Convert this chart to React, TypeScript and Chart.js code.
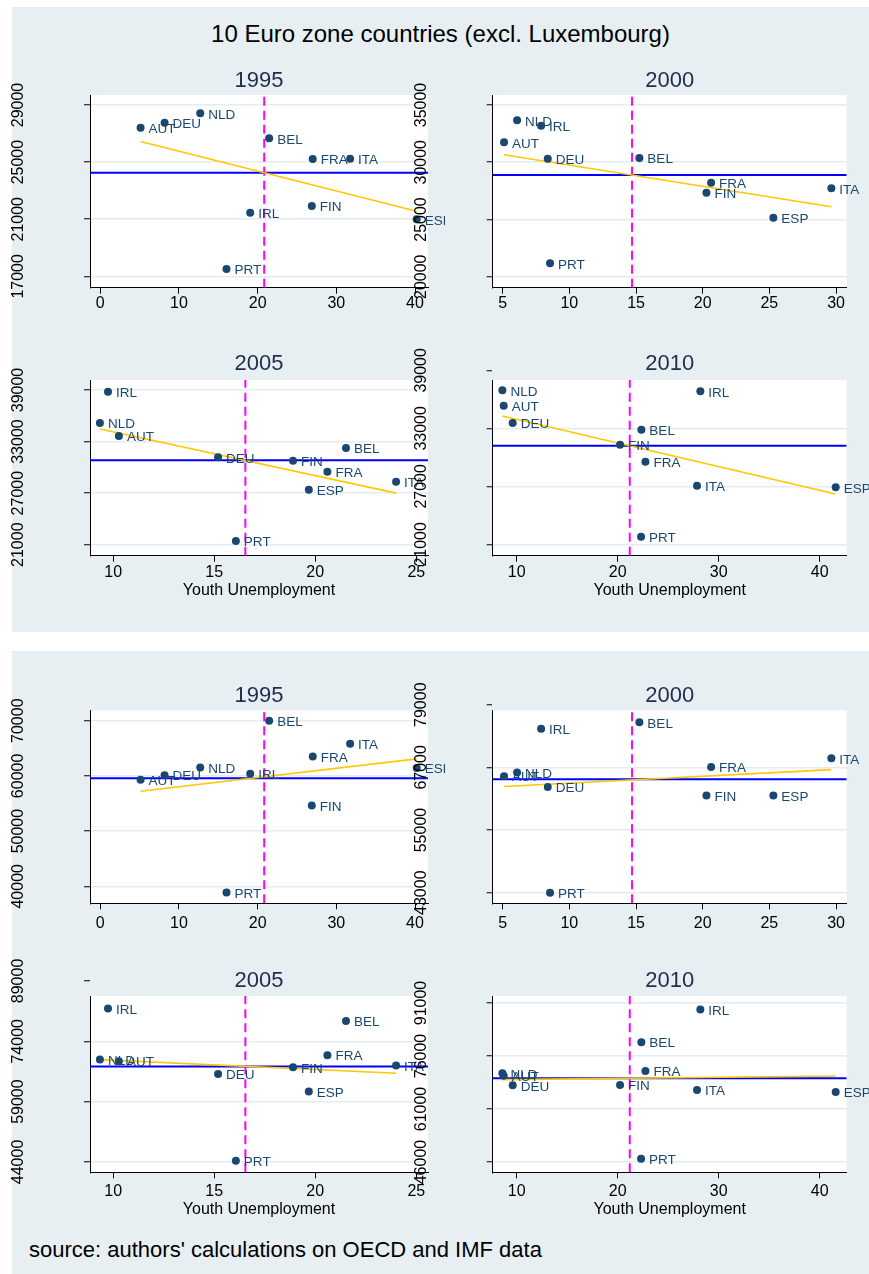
import React, { useEffect, useRef } from 'react';
import { Chart, registerables } from 'chart.js';

Chart.register(...registerables);

const FONT = '"Liberation Sans", Arial, Helvetica, sans-serif';
const NAVY = '#1a476f';
const TITLE_COLOR = '#1f2d4e';
const GRID = '#e4ecef';
const BG = '#e8eff2';

// ---------- data ----------
const countries = ['AUT', 'BEL', 'DEU', 'ESP', 'FIN', 'FRA', 'IRL', 'ITA', 'NLD', 'PRT'];
const years = ['1995', '2000', '2005', '2010'];

const youth1995 = [5.12, 21.46, 8.17, 40.21, 26.88, 27.0, 19.05, 31.75, 12.7, 16.04];
const youth2000 = [5.1, 15.25, 8.38, 25.3, 20.28, 20.63, 7.88, 29.65, 6.08, 8.55];
const youth2005 = [10.28, 21.52, 15.19, 19.68, 18.9, 20.6, 9.74, 24.0, 9.34, 16.07];
const youth2010 = [8.71, 22.34, 9.6, 41.58, 20.23, 22.74, 28.18, 27.85, 8.58, 22.31];

const gdp1995 = [27412, 26665, 27762, 20991, 21925, 25217, 21458, 25240, 28416, 17514];
const gdp2000 = [31740, 30370, 30310, 25160, 27340, 28215, 33195, 27720, 33660, 21170];
const gdp2005 = [33647, 32250, 31164, 27402, 30776, 29496, 38806, 28333, 35160, 21427];
const gdp2010 = [35345, 32862, 33552, 26897, 31311, 29553, 36828, 27070, 36931, 21795];

const prod1995 = [59295, 70000, 60140, 61412, 54638, 63529, 60380, 65827, 61533, 38853];
const prod2000 = [65300, 75623, 63261, 61604, 61604, 67084, 74412, 68741, 66001, 43000];
const prod2005 = [69032, 79016, 65870, 61544, 67534, 70530, 82178, 67950, 69448, 44322];
const prod2010 = [70429, 79916, 67705, 65827, 67799, 71744, 89121, 66390, 71087, 46947];

const meanYouth = [20.83, 14.7, 16.54, 21.19];
const meanGdp = [24260, 28885, 30815, 31208];
const meanProd = [59597, 64727, 67700, 69678];

const fitX = [[5.12, 40.21], [5.1, 29.65], [9.34, 24.0], [8.58, 41.58]];
const fitGdp = [[26440, 21560], [30660, 26120], [34462, 27000], [34276, 26208]];
const fitProd = [[57218, 63085], [63325, 66575], [69448, 66036], [69302, 70335]];

const xTicks = [[0, 10, 20, 30, 40], [5, 10, 15, 20, 25, 30], [10, 15, 20, 25], [10, 20, 30, 40]];
const yTicksGdp = [[17000, 21000, 25000, 29000], [20000, 25000, 30000, 35000], [21000, 27000, 33000, 39000], [21000, 27000, 33000, 39000]];
const yTicksProd = [[40000, 50000, 60000, 70000], [43000, 55000, 67000, 79000], [44000, 59000, 74000, 89000], [46000, 61000, 76000, 91000]];

const xRanges = [[-1.31, 41.65], [4.25, 30.8], [8.85, 25.58], [7.62, 42.67]];
const yRangesGdp = [[16206, 29700], [19042, 35874], [19720, 40164], [19828, 38000]];
const yRangesProd = [[36916, 71870], [40973, 77910], [41429, 85256], [43097, 92973]];

const xTitle = 'Youth Unemployment';

// ---------- layout ----------
const COLS = [
  { cl: 8, cr: 445, L: 90, R: 428 },
  { cl: 400, cr: 869, L: 492.7, R: 846.7 },
];
const ROWS = [
  { ct: 55, cb: 320, T: 95, B: 287.7, titleY: 80.9, xLabelY: 303.5, xTitleY: 0 },
  { ct: 335, cb: 610, T: 380, B: 555.7, titleY: 364.4, xLabelY: 572.5, xTitleY: 590.3 },
  { ct: 660, cb: 945, T: 710.4, B: 903.3, titleY: 695.5, xLabelY: 923.5, xTitleY: 0 },
  { ct: 950, cb: 1225, T: 996, B: 1172.3, titleY: 980.6, xLabelY: 1192, xTitleY: 1210 },
];

type Spec = {
  title: string;
  xs: number[];
  ys: number[];
  meanX: number;
  meanY: number;
  fitXs: number[];
  fitYs: number[];
  xT: number[];
  yT: number[];
  xR: number[];
  yR: number[];
  col: typeof COLS[0];
  row: typeof ROWS[0];
};

const youthAll = [youth1995, youth2000, youth2005, youth2010];
const gdpAll = [gdp1995, gdp2000, gdp2005, gdp2010];
const prodAll = [prod1995, prod2000, prod2005, prod2010];

const specs: Spec[] = [];
[0, 1].forEach((group) => {
  years.forEach((yr, i) => {
    specs.push({
      title: yr,
      xs: youthAll[i],
      ys: group === 0 ? gdpAll[i] : prodAll[i],
      meanX: meanYouth[i],
      meanY: group === 0 ? meanGdp[i] : meanProd[i],
      fitXs: fitX[i],
      fitYs: group === 0 ? fitGdp[i] : fitProd[i],
      xT: xTicks[i],
      yT: group === 0 ? yTicksGdp[i] : yTicksProd[i],
      xR: xRanges[i],
      yR: group === 0 ? yRangesGdp[i] : yRangesProd[i],
      col: COLS[i % 2],
      row: ROWS[group * 2 + Math.floor(i / 2)],
    });
  });
});

function Panel({ spec }: { spec: Spec }) {
  const ref = useRef<HTMLCanvasElement>(null);
  const { col, row } = spec;
  const w = col.cr - col.cl;
  const h = row.cb - row.ct;

  useEffect(() => {
    const canvas = ref.current;
    if (!canvas) return;
    const TL = 6;
    const meas = document.createElement('canvas').getContext('2d')!;
    meas.font = `16px ${FONT}`;
    const widest = Math.max(...spec.yT.map((t) => meas.measureText(String(t)).width));
    const yPad = 71.5 - TL - widest / 2;
    const titleLH = 22 * 1.2;
    const tPadTop = row.titleY - row.ct - titleLH / 2;
    const tPadBottom = row.T - row.ct - tPadTop - titleLH;
    const xPad = row.xLabelY - row.B - TL - 8;
    const [xMin, xMax] = spec.xR;
    const [yMin, yMax] = spec.yR;

    const plotBg = {
      id: 'plotBg',
      beforeDraw(chart: any) {
        const a = chart.chartArea;
        const c = chart.ctx;
        c.save();
        c.fillStyle = '#ffffff';
        c.fillRect(a.left, a.top, a.right - a.left, a.bottom - a.top);
        c.restore();
      },
    };
    const countryLabels = {
      id: 'countryLabels',
      afterDatasetsDraw(chart: any) {
        const meta = chart.getDatasetMeta(0);
        const c = chart.ctx;
        c.save();
        c.font = `13.5px ${FONT}`;
        c.fillStyle = NAVY;
        c.textAlign = 'left';
        c.textBaseline = 'middle';
        meta.data.forEach((el: any, i: number) => {
          c.fillText(countries[i], el.x + 8, el.y + 1.5);
        });
        c.restore();
      },
    };

    const chart = new Chart(canvas, {
      type: 'scatter',
      data: {
        datasets: [
          {
            data: spec.xs.map((x, i) => ({ x, y: spec.ys[i] })),
            pointRadius: 4,
            pointBackgroundColor: NAVY,
            pointBorderWidth: 0,
            showLine: false,
          },
          {
            data: spec.fitXs.map((x, i) => ({ x, y: spec.fitYs[i] })),
            showLine: true,
            borderColor: '#ffc800',
            borderWidth: 1.6,
            pointRadius: 0,
          },
          {
            data: [{ x: spec.meanX, y: yMin }, { x: spec.meanX, y: yMax }],
            showLine: true,
            borderColor: '#ff00ff',
            borderWidth: 2,
            borderDash: [9, 5],
            pointRadius: 0,
          },
          {
            data: [{ x: xMin, y: spec.meanY }, { x: xMax, y: spec.meanY }],
            showLine: true,
            borderColor: '#0000ff',
            borderWidth: 2,
            pointRadius: 0,
          },
        ] as any,
      },
      options: {
        responsive: false,
        animation: false,
        devicePixelRatio: 1,
        events: [],
        layout: { padding: { left: 0, top: 0, bottom: 0, right: col.cr - col.R } },
        plugins: {
          legend: { display: false },
          tooltip: { enabled: false },
          title: {
            display: true,
            text: spec.title,
            fullSize: false,
            color: TITLE_COLOR,
            font: { family: FONT, size: 22, weight: 'normal', lineHeight: 1.2 },
            padding: { top: tPadTop, bottom: tPadBottom },
          },
        },
        scales: {
          x: {
            type: 'linear',
            position: 'bottom',
            min: xMin,
            max: xMax,
            afterBuildTicks: (s: any) => {
              s.ticks = spec.xT.map((v) => ({ value: v }));
            },
            afterFit: (s: any) => {
              s.height = row.cb - row.B;
              s.paddingLeft = 0;
              s.paddingRight = 0;
            },
            grid: {
              drawOnChartArea: false,
              drawTicks: true,
              tickLength: TL,
              tickColor: '#000',
              tickWidth: 1,
              color: '#000',
            },
            border: { display: true, color: '#000', width: 1 },
            ticks: {
              autoSkip: false,
              minRotation: 0,
              maxRotation: 0,
              padding: xPad,
              color: '#000',
              font: { family: FONT, size: 16, lineHeight: 1 },
              callback: (v: any) => String(v),
            },
            title: row.xTitleY
              ? {
                  display: true,
                  text: xTitle,
                  color: '#000',
                  font: { family: FONT, size: 16, lineHeight: 1 },
                  padding: { top: 0, bottom: row.cb - row.xTitleY - 8 },
                }
              : { display: false },
          },
          y: {
            type: 'linear',
            position: 'left',
            min: yMin,
            max: yMax,
            afterBuildTicks: (s: any) => {
              s.ticks = spec.yT.map((v) => ({ value: v }));
            },
            afterFit: (s: any) => {
              s.width = col.L - col.cl;
              s.paddingTop = 0;
              s.paddingBottom = 0;
            },
            grid: {
              drawOnChartArea: true,
              drawTicks: true,
              tickLength: TL,
              tickColor: '#000',
              tickWidth: 1,
              lineWidth: 1.5,
              color: (c: any) => {
                const v = c.tick ? c.tick.value : 0;
                return v >= yMin && v <= yMax ? GRID : 'rgba(0,0,0,0)';
              },
            },
            border: { display: true, color: '#000', width: 1 },
            ticks: {
              autoSkip: false,
              minRotation: 90,
              maxRotation: 90,
              crossAlign: 'center',
              padding: yPad,
              color: '#000',
              font: { family: FONT, size: 16, lineHeight: 1 },
              callback: (v: any) => String(v),
            },
          },
        },
      } as any,
      plugins: [plotBg, countryLabels],
    });
    return () => chart.destroy();
  }, []);

  return (
    <canvas
      ref={ref}
      width={w}
      height={h}
      style={{ position: 'absolute', left: col.cl, top: row.ct, width: w, height: h }}
    />
  );
}

export default function App() {
  return (
    <div style={{ position: 'absolute', left: 0, top: 0, width: 869, height: 1274, background: '#fff', overflow: 'hidden', fontFamily: FONT }}>
      <div style={{ position: 'absolute', left: 12, top: 7, width: 857, height: 625, background: BG }} />
      <div style={{ position: 'absolute', left: 12, top: 651, width: 857, height: 623, background: BG }} />
      <div style={{ position: 'absolute', left: 12, top: 22, width: 857, textAlign: 'center', fontSize: 24, lineHeight: '24px', color: '#000', whiteSpace: 'nowrap' }}>
        10 Euro zone countries (excl. Luxembourg)
      </div>
      {specs.map((s, i) => (
        <Panel key={i} spec={s} />
      ))}
      <div style={{ position: 'absolute', left: 29, top: 1239, fontSize: 22, lineHeight: '22px', color: '#000', whiteSpace: 'nowrap' }}>
        source: authors' calculations on OECD and IMF data
      </div>
    </div>
  );
}
